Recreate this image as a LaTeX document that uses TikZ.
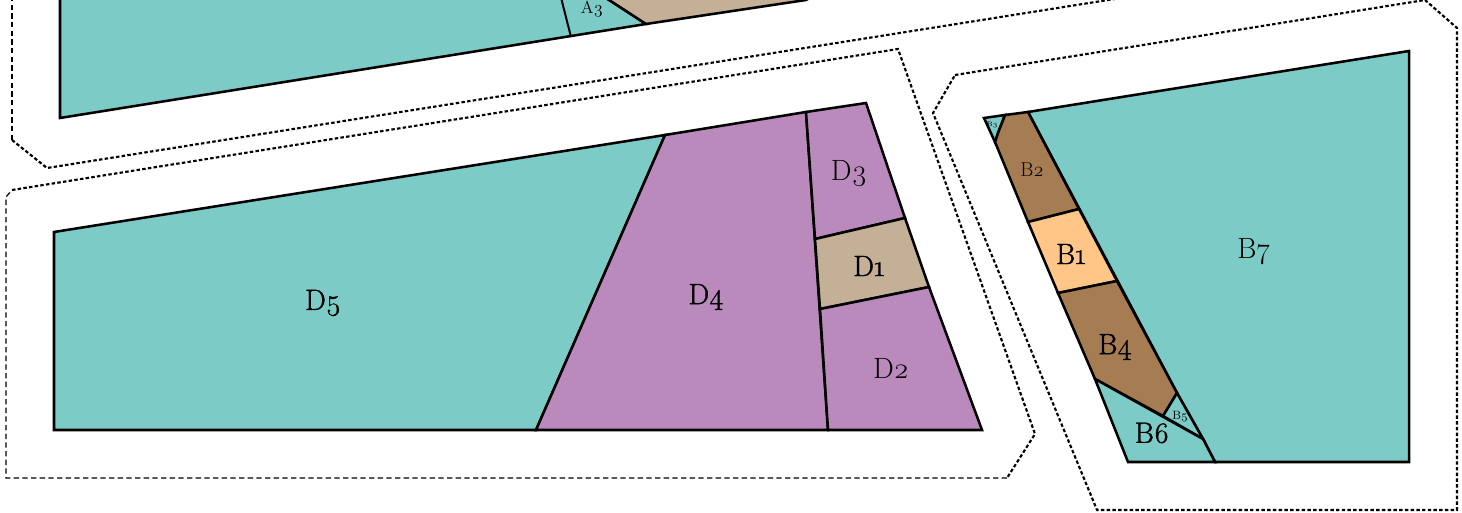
\documentclass[tikz,border=0pt]{standalone}
\usepackage{fontspec}
\setmainfont{Latin Modern Roman}[Numbers=OldStyle]
\newfontfamily\heavyfont{Latin Modern Roman}[Numbers=OldStyle,FakeBold=1.2]
\definecolor{tealpart}{HTML}{7CCBC6}
\definecolor{purplepart}{HTML}{BB8ABD}
\definecolor{tanpart}{HTML}{C4AF97}
\definecolor{brownpart}{HTML}{A67C52}
\definecolor{orangepart}{HTML}{FFC688}
\begin{document}
\begin{tikzpicture}[x=0.75pt,y=-0.75pt,every node/.style={inner sep=0pt},
part/.style={draw,line width=1.9pt,line join=miter},
outline/.style={draw,line width=1.6pt,dash pattern=on 2.6pt off 1.7pt},
thinline/.style={draw,line width=0.9pt,dash pattern=on 4pt off 2.5pt},
big/.style={font=\fontsize{22}{22}\selectfont},
heavy/.style={font=\heavyfont\fontsize{22}{22}\selectfont},
mid/.style={font=\fontsize{15}{15}\selectfont},
tiny/.style={font=\fontsize{9}{9}\selectfont}]
\useasboundingbox (0,0) rectangle (1462,513);
\clip (0,0) rectangle (1462,513);
% top block
\path[part,fill=tealpart] (60,-30) -- (60,118) -- (646,24) -- (563,-30) -- cycle;
\path[part,fill=tanpart] (646,24) -- (806,0) -- (860,-30) -- (563,-30) -- cycle;
\draw[line width=1.5pt] (571,37) -- (554,-30);
\node[font=\fontsize{13}{13}\selectfont] (a3) at (592,9) {A3};
\draw[thinline] (12,-30) -- (12,140);
\draw[outline] (12,140) -- (47,168) -- (1108,0) -- (1300,-30);
% block D
\draw[outline] (12,190) -- (898,49) -- (1035,434) -- (1007,478);
\draw[thinline] (1007,478) -- (6,478) -- (6,197) -- (12,190);
\path[part,fill=tealpart] (54,232) -- (665,135) -- (536,430) -- (54,430) -- cycle;
\path[part,fill=purplepart] (665,135) -- (806,112) -- (828,430) -- (536,430) -- cycle;
\path[part,fill=purplepart] (806,112) -- (866,103) -- (905,218) -- (815,239) -- cycle;
\path[part,fill=tanpart] (815,239) -- (905,218) -- (929,287) -- (820,309) -- cycle;
\path[part,fill=purplepart] (820,309) -- (929,287) -- (982,430) -- (828,430) -- cycle;
\node[heavy] (d5) at (323,303) {D5};
\node[heavy] (d4) at (706,297) {D4};
\node[big] (d3) at (849,174) {D3};
\node[heavy] (d1) at (869,266) {D1};
\node[big] (d2) at (891,368) {D2};
% block B
\draw[outline] (955,75) -- (1425,0) -- (1457,28) -- (1457,510) -- (1097,510) -- (933,113) -- cycle;
\path[part,fill=tealpart] (1028,112) -- (1409,51) -- (1409,462) -- (1215,462) -- (1203,439) -- (1177,393) -- cycle;
\path[part,fill=tealpart] (984,118) -- (1005,115) -- (998,133) -- (995,142) -- cycle;
\path[part,fill=brownpart] (1005,115) -- (1028,112) -- (1079,209) -- (1028,222) -- (995,142) -- (998,133) -- cycle;
\path[part,fill=orangepart] (1028,222) -- (1079,209) -- (1117,281) -- (1058,293) -- cycle;
\path[part,fill=brownpart] (1058,293) -- (1117,281) -- (1177,393) -- (1163,416) -- (1095,379) -- cycle;
\path[part,fill=tealpart] (1177,393) -- (1203,439) -- (1163,416) -- cycle;
\path[part,fill=tealpart] (1095,379) -- (1203,439) -- (1215,462) -- (1128,462) -- cycle;
\node[font=\fontsize{5}{5}\selectfont] (b3) at (992,125) {B3};
\node[mid] (b2) at (1032,170) {B2};
\node[heavy] (b1) at (1071,254) {B1};
\node[heavy] (b4) at (1115,347) {B4};
\node[tiny] (b5) at (1180,417) {B5};
\node[heavy] (b6) at (1152,433) {B6};
\node[big] (b7) at (1254,252) {B7};
\end{tikzpicture}
\end{document}
